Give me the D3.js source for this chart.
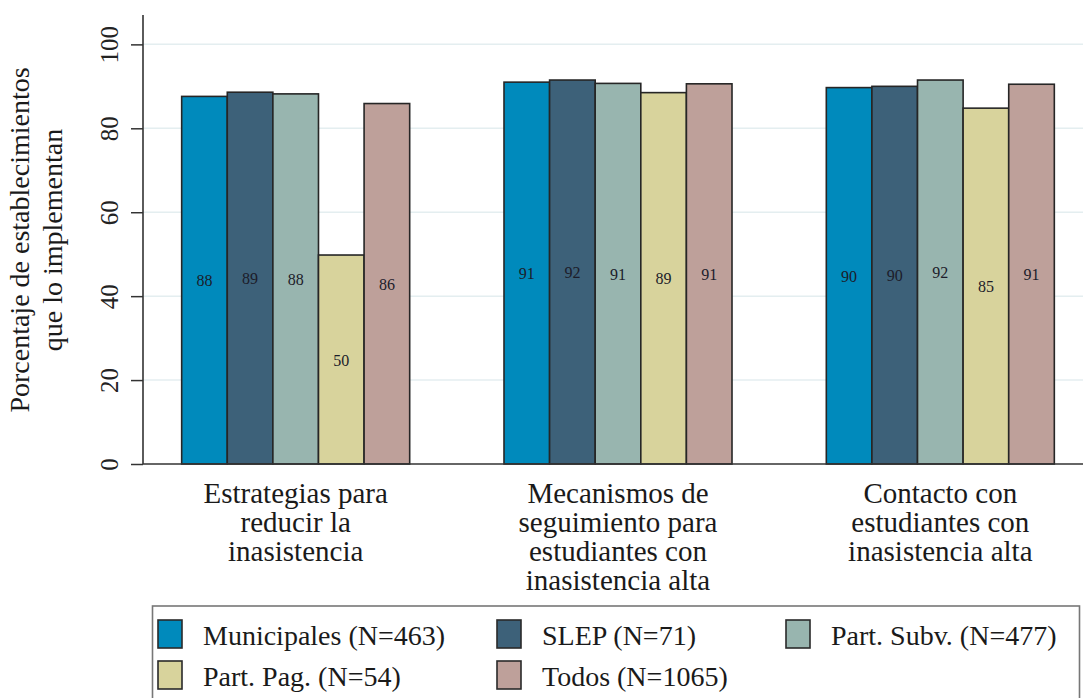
<!DOCTYPE html>
<html>
<head>
<meta charset="utf-8">
<script src="https://cdn.jsdelivr.net/npm/d3@7"></script>
<style>
  body { margin: 0; background: #fff; }
  svg text { font-family: "Liberation Serif", "Times New Roman", "DejaVu Serif", serif; }
</style>
</head>
<body>
<div id="svgcontainer"></div>
<script>
// categories + series
var categories = [
  ["Estrategias para", "reducir la", "inasistencia"],
  ["Mecanismos de", "seguimiento para", "estudiantes con", "inasistencia alta"],
  ["Contacto con", "estudiantes con", "inasistencia alta"]
]
var seriesNames = ["Municipales (N=463)", "SLEP (N=71)", "Part. Subv. (N=477)", "Part. Pag. (N=54)", "Todos (N=1065)"]
var municipales = [87.6, 91.0, 89.7]
var slep = [88.6, 91.5, 90.0]
var partSubv = [88.2, 90.7, 91.5]
var partPag = [49.8, 88.5, 84.8]
var todos = [85.9, 90.6, 90.5]
var yTicks = [0, 20, 40, 60, 80, 100]
var colors = ["#008abc", "#3d6179", "#98b5af", "#d8d39c", "#bea09a"]

;(function() {
    var width = 1083, height = 698
    var serif = "'Liberation Serif', 'Times New Roman', 'DejaVu Serif', serif"
    var series = [municipales, slep, partSubv, partPag, todos]

    var svg = d3.select("#svgcontainer").append("svg")
        .attr("width", width)
        .attr("height", height)
        .style("display", "block")

    svg.append("rect")
        .attr("width", width).attr("height", height)
        .attr("fill", "#fff")

    var catIdx = d3.range(categories.length)
    var serIdx = d3.range(seriesNames.length)

    var x0 = d3.scaleBand()
        .domain(catIdx)
        .range([143, 1093])
        .paddingInner(0.2926)
        .paddingOuter(0.12)

    var x1 = d3.scaleBand()
        .domain(serIdx)
        .range([0, x0.bandwidth()])

    var y = d3.scaleLinear()
        .domain([0, 107])
        .range([464, 15])

    // gridlines
    svg.append("g").attr("class", "grid")
        .selectAll("line")
        .data(yTicks.filter(d => d > 0))
        .enter().append("line")
        .attr("x1", 143).attr("x2", 1093)
        .attr("y1", d => y(d)).attr("y2", d => y(d))
        .attr("stroke", "#e4eef0")
        .attr("stroke-width", 1.5)

    // bars
    var groups = svg.append("g").attr("class", "bars")
        .selectAll("g")
        .data(catIdx)
        .enter().append("g")
        .attr("transform", d => "translate(" + x0(d) + ",0)")

    groups.selectAll("rect")
        .data(c => serIdx.map(s => ({s: s, v: series[s][c]})))
        .enter().append("rect")
        .attr("x", d => x1(d.s))
        .attr("y", d => y(d.v))
        .attr("width", x1.bandwidth())
        .attr("height", d => y(0) - y(d.v))
        .attr("fill", d => colors[d.s])
        .attr("stroke", "#262626")
        .attr("stroke-width", 1.6)

    groups.selectAll("text")
        .data(c => serIdx.map(s => ({s: s, v: series[s][c]})))
        .enter().append("text")
        .attr("x", d => x1(d.s) + x1.bandwidth() / 2)
        .attr("y", d => (y(d.v) + y(0)) / 2 + 6)
        .attr("text-anchor", "middle")
        .attr("font-family", serif)
        .attr("font-size", 16)
        .attr("fill", "#1c1c2a")
        .text(d => Math.round(d.v))

    // y axis
    var yAxis = svg.append("g")
        .attr("transform", "translate(143,0)")
        .call(d3.axisLeft(y).tickValues(yTicks).tickSize(12).tickPadding(8))
    yAxis.attr("font-family", serif)
    yAxis.select(".domain").remove()
    yAxis.selectAll(".tick line").attr("stroke", "#333").attr("stroke-width", 1.5)
    yAxis.selectAll(".tick text")
        .attr("font-size", 25)
        .attr("font-family", serif)
        .attr("fill", "#222")
        .attr("text-anchor", "middle")
        .attr("transform", "rotate(-90)")
        .attr("x", 0)
        .attr("dy", 0)
        .attr("y", -25)

    svg.append("line")
        .attr("x1", 143).attr("x2", 143)
        .attr("y1", 15).attr("y2", y(0))
        .attr("stroke", "#333").attr("stroke-width", 1.6)

    // x axis
    svg.append("line")
        .attr("x1", 143).attr("x2", 1093)
        .attr("y1", y(0)).attr("y2", y(0))
        .attr("stroke", "#333").attr("stroke-width", 1.6)

    // category labels
    var cl = svg.append("g").selectAll("text")
        .data(catIdx)
        .enter().append("text")
        .attr("text-anchor", "middle")
        .attr("font-family", serif)
        .attr("font-size", 29)
        .attr("fill", "#1a1a1a")
    cl.selectAll("tspan")
        .data(c => categories[c].map(t => ({t: t, c: c})))
        .enter().append("tspan")
        .attr("x", d => x0(d.c) + x0.bandwidth() / 2)
        .attr("y", (d, i) => 502.5 + i * 29)
        .text(d => d.t)

    // y title
    var yt = svg.append("text")
        .attr("transform", "translate(0,240) rotate(-90)")
        .attr("text-anchor", "middle")
        .attr("font-family", serif)
        .attr("font-size", 28)
        .attr("fill", "#1a1a1a")
    yt.append("tspan").attr("x", 0).attr("y", 29).text("Porcentaje de establecimientos")
    yt.append("tspan").attr("x", 0).attr("y", 62).text("que lo implementan")

    // legend
    var legend = svg.append("g")
    legend.append("rect")
        .attr("x", 152.5).attr("y", 606)
        .attr("width", 927).attr("height", 110)
        .attr("fill", "#fff")
        .attr("stroke", "#777")
        .attr("stroke-width", 1.6)

    var colX = [158, 497, 786]
    var items = legend.selectAll("g.item")
        .data(serIdx)
        .enter().append("g")
        .attr("class", "item")
        .attr("transform", d => "translate(" + colX[d % 3] + "," + (620 + Math.floor(d / 3) * 41) + ")")

    items.append("rect")
        .attr("width", 24).attr("height", 28)
        .attr("fill", d => colors[d])
        .attr("stroke", "#2a2a2a")
        .attr("stroke-width", 1.6)

    items.append("text")
        .attr("x", 45)
        .attr("y", 24.5)
        .attr("font-family", serif)
        .attr("font-size", 28)
        .attr("fill", "#1a1a1a")
        .text(d => seriesNames[d])
})()
</script>
</body>
</html>
